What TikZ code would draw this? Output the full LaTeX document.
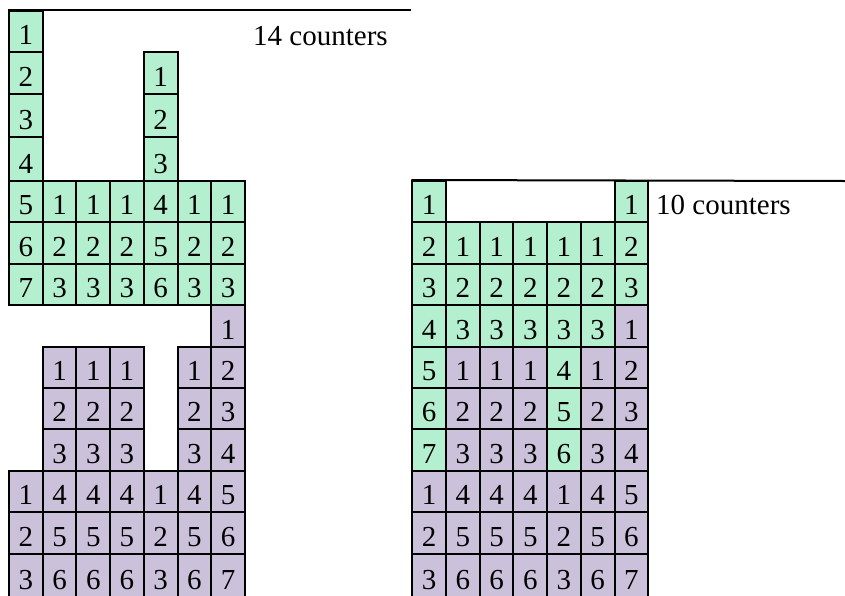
\documentclass[tikz,border=0pt]{standalone}
\usepackage{fontspec}
\setmainfont{Liberation Serif}
\definecolor{cgreen}{RGB}{180,240,208}
\definecolor{cpurple}{RGB}{204,193,219}
\tikzset{
  cellbox/.style={draw=black, line width=2pt, inner sep=0pt, minimum width=33.7pt,
    font=\fontsize{29}{31}\selectfont, text depth=0pt},
  gc/.style={cellbox, fill=cgreen},
  pc/.style={cellbox, fill=cpurple},
  lbl/.style={font=\fontsize{29}{31}\selectfont, anchor=base west, inner sep=0pt},
  rule/.style={draw=black, line width=2pt},
}
\begin{document}
\begin{tikzpicture}[x=1pt,y=-1pt]
\useasboundingbox (0,0) rectangle (845,595);
\def\tops{{0,11,52.3,94,137,181,222.4,263.8,305.2,346.6,388,429.4,470.8,512.2,553.6,597}}
% left grid
\foreach \r/\c/\t/\s in {
 1/1/1/gc,
 2/1/2/gc, 2/5/1/gc,
 3/1/3/gc, 3/5/2/gc,
 4/1/4/gc, 4/5/3/gc,
 5/1/5/gc, 5/2/1/gc, 5/3/1/gc, 5/4/1/gc, 5/5/4/gc, 5/6/1/gc, 5/7/1/gc,
 6/1/6/gc, 6/2/2/gc, 6/3/2/gc, 6/4/2/gc, 6/5/5/gc, 6/6/2/gc, 6/7/2/gc,
 7/1/7/gc, 7/2/3/gc, 7/3/3/gc, 7/4/3/gc, 7/5/6/gc, 7/6/3/gc, 7/7/3/gc,
 8/7/1/pc,
 9/2/1/pc, 9/3/1/pc, 9/4/1/pc, 9/6/1/pc, 9/7/2/pc,
 10/2/2/pc, 10/3/2/pc, 10/4/2/pc, 10/6/2/pc, 10/7/3/pc,
 11/2/3/pc, 11/3/3/pc, 11/4/3/pc, 11/6/3/pc, 11/7/4/pc,
 12/1/1/pc, 12/2/4/pc, 12/3/4/pc, 12/4/4/pc, 12/5/1/pc, 12/6/4/pc, 12/7/5/pc,
 13/1/2/pc, 13/2/5/pc, 13/3/5/pc, 13/4/5/pc, 13/5/2/pc, 13/6/5/pc, 13/7/6/pc,
 14/1/3/pc, 14/2/6/pc, 14/3/6/pc, 14/4/6/pc, 14/5/3/pc, 14/6/6/pc, 14/7/7/pc}{
  \pgfmathsetmacro\ytop{\tops[\r]}
  \pgfmathsetmacro\ybot{\tops[\r+1]}
  \pgfmathsetmacro\h{\ybot-\ytop}
  \pgfmathsetmacro\th{\h-15}
  \node[\s, minimum height=\h pt, text height=\th pt] (L-\r-\c) at ({9+33.7*(\c-0.5)}, {(\ytop+\ybot)/2}) {\t};
}
% right grid
\foreach \r/\c/\t/\s in {
 5/1/1/gc, 5/7/1/gc,
 6/1/2/gc, 6/2/1/gc, 6/3/1/gc, 6/4/1/gc, 6/5/1/gc, 6/6/1/gc, 6/7/2/gc,
 7/1/3/gc, 7/2/2/gc, 7/3/2/gc, 7/4/2/gc, 7/5/2/gc, 7/6/2/gc, 7/7/3/gc,
 8/1/4/gc, 8/2/3/gc, 8/3/3/gc, 8/4/3/gc, 8/5/3/gc, 8/6/3/gc, 8/7/1/pc,
 9/1/5/gc, 9/2/1/pc, 9/3/1/pc, 9/4/1/pc, 9/5/4/gc, 9/6/1/pc, 9/7/2/pc,
 10/1/6/gc, 10/2/2/pc, 10/3/2/pc, 10/4/2/pc, 10/5/5/gc, 10/6/2/pc, 10/7/3/pc,
 11/1/7/gc, 11/2/3/pc, 11/3/3/pc, 11/4/3/pc, 11/5/6/gc, 11/6/3/pc, 11/7/4/pc,
 12/1/1/pc, 12/2/4/pc, 12/3/4/pc, 12/4/4/pc, 12/5/1/pc, 12/6/4/pc, 12/7/5/pc,
 13/1/2/pc, 13/2/5/pc, 13/3/5/pc, 13/4/5/pc, 13/5/2/pc, 13/6/5/pc, 13/7/6/pc,
 14/1/3/pc, 14/2/6/pc, 14/3/6/pc, 14/4/6/pc, 14/5/3/pc, 14/6/6/pc, 14/7/7/pc}{
  \pgfmathsetmacro\ytop{\tops[\r]}
  \pgfmathsetmacro\ybot{\tops[\r+1]}
  \pgfmathsetmacro\h{\ybot-\ytop}
  \pgfmathsetmacro\th{\h-15}
  \node[\s, minimum height=\h pt, text height=\th pt] (R-\r-\c) at ({412.3+33.7*(\c-0.5)}, {(\ytop+\ybot)/2}) {\t};
}
% top rules
\coordinate (rend) at (845,181);
\draw[rule] (L-1-1.north west) -- (L-1-1.north west -| R-5-1.west);
\draw[rule] (R-5-1.north west) -- (rend);
% labels
\node[lbl] (t14) at (253,45) {14 counters};
\node[lbl] (t10) at (656,214.9) {10 counters};
\end{tikzpicture}
\end{document}
